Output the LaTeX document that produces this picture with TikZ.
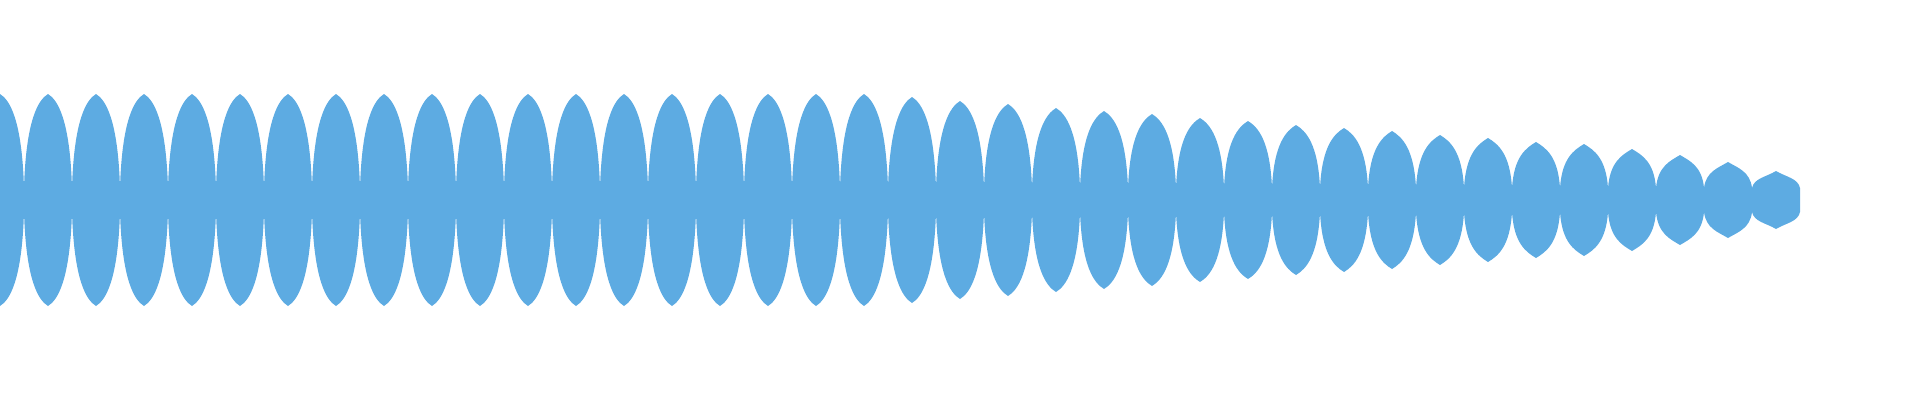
\documentclass[tikz,border=0pt]{standalone}
\definecolor{wave}{RGB}{93,171,226}
\begin{document}
\begin{tikzpicture}[x=1pt,y=-1pt]
\useasboundingbox (0,0) rectangle (1920,400);
\begin{scope}
\clip (0,0) rectangle (1920,400);
\fill[wave] (0,188) rectangle (1776,212);
\foreach \a [count=\k from 0] in {106,106,106,106,106,106,106,106,106,106,106,106,106,106,106,106,106,106,106,103,99,96,92,89,86,82,79,75,72,69,65,62,58,56,51,45,38,29}{
  \pgfmathsetmacro{\x}{48*\k}
  \pgfmathsetmacro{\t}{200-\a}
  \pgfmathsetmacro{\b}{200+\a}
  \pgfmathsetmacro{\cu}{200-0.75*\a}
  \pgfmathsetmacro{\cd}{200+0.75*\a}
  \pgfmathsetmacro{\tu}{200-\a+6}
  \pgfmathsetmacro{\bu}{200+\a-6}
  \fill[wave] (\x-24,188) .. controls (\x-22,\cu) and (\x-10,\tu) .. (\x,\t)
     .. controls (\x+10,\tu) and (\x+22,\cu) .. (\x+24,188)
     -- (\x+24,212) .. controls (\x+22,\cd) and (\x+10,\bu) .. (\x,\b)
     .. controls (\x-10,\bu) and (\x-22,\cd) .. (\x-24,212) -- cycle;
}
\end{scope}
\end{tikzpicture}
\end{document}
